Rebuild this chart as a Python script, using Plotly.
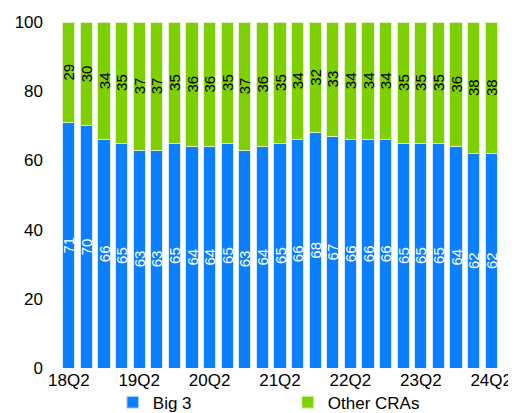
import plotly.graph_objects as go

quarters = ["18Q2", "18Q3", "18Q4", "19Q1", "19Q2", "19Q3", "19Q4", "20Q1", "20Q2",
            "20Q3", "20Q4", "21Q1", "21Q2", "21Q3", "21Q4", "22Q1", "22Q2", "22Q3",
            "22Q4", "23Q1", "23Q2", "23Q3", "23Q4", "24Q1", "24Q2"]
big3 = [71, 70, 66, 65, 63, 63, 65, 64, 64, 65, 63, 64, 65, 66, 68, 67, 66, 66, 66,
        65, 65, 65, 64, 62, 62]
other_cras = [29, 30, 34, 35, 37, 37, 35, 36, 36, 35, 37, 36, 35, 34, 32, 33, 34, 34, 34,
              35, 35, 35, 36, 38, 38]
tick_labels = ["18Q2", "19Q2", "20Q2", "21Q2", "22Q2", "23Q2", "24Q2"]
y_ticks = [0, 20, 40, 60, 80, 100]

BLUE = "#0A7FFF"
GREEN = "#7FD000"
FONT = "Liberation Sans, Arial, sans-serif"

fig = go.Figure()
fig.add_trace(go.Bar(
    x=quarters, y=big3, name="Big 3",
    marker=dict(color=BLUE, line=dict(color="#D8E8F8", width=1)),
    text=[str(v) for v in big3], textposition="inside", insidetextanchor="middle",
    textangle=-90, constraintext="none",
    textfont=dict(color="white", size=15, family=FONT),
))
fig.add_trace(go.Bar(
    x=quarters, y=other_cras, name="Other CRAs",
    marker=dict(color=GREEN, line=dict(color="#E0F0C8", width=1)),
    text=[str(v) for v in other_cras], textposition="inside", insidetextanchor="middle",
    textangle=-90, constraintext="none",
    textfont=dict(color="black", size=15, family=FONT),
))

fig.update_layout(
    barmode="stack",
    bargap=0.3,
    width=508, height=405,
    margin=dict(l=52, r=16, t=14, b=45, autoexpand=False),
    plot_bgcolor="white", paper_bgcolor="white",
    font=dict(family=FONT, size=17, color="black"),
    showlegend=True,
    legend=dict(orientation="h", x=0.12, xanchor="left", y=-0.048, yanchor="top",
                entrywidth=130, font=dict(size=17), itemwidth=30,
                bgcolor="rgba(0,0,0,0)",
                traceorder="normal", tracegroupgap=0),
    xaxis=dict(type="category", tickmode="array", tickvals=tick_labels, ticktext=tick_labels,
               showgrid=False, showline=False, ticks="", tickfont=dict(size=17)),
    yaxis=dict(range=[0, 100], tickvals=y_ticks, showgrid=False, showline=False,
               zeroline=False, ticks="", ticklabelstandoff=16, tickfont=dict(size=17)),
)

fig.write_html("out.html")
